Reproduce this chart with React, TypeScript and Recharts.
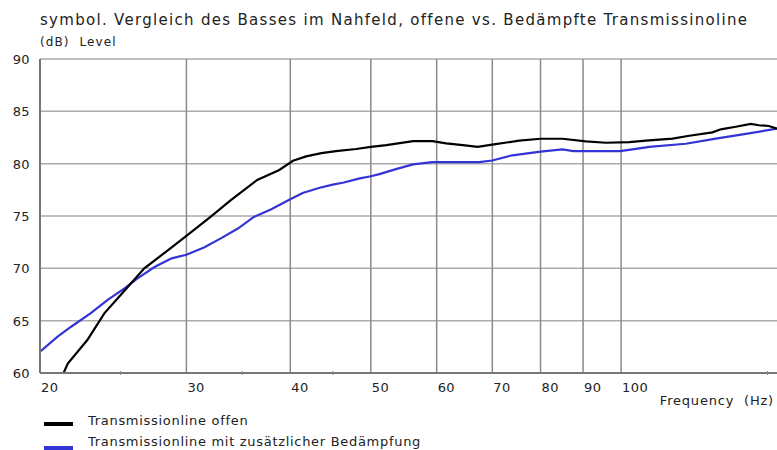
import React from 'react';
import { LineChart, Line, XAxis, YAxis, CartesianGrid, ReferenceLine } from 'recharts';

const offenFreq = [21.35, 21.6, 22.8, 23.9, 25.3, 26.7, 28.8, 30, 32.1, 33.9, 36.5, 38.8, 40.3, 41.8, 43.6, 45.4, 48.0, 50, 52.2, 56.2, 59.3, 61.6, 64.5, 67.2, 70.3, 75.4, 80, 85, 90.7, 95.9, 102.3, 107.1, 115.3, 120.8, 128.8, 131.8, 137.4, 143.2, 146.5, 150.6, 154];
const offenLevel = [60, 60.9, 63.15, 65.7, 67.9, 70, 72.0, 73.1, 74.95, 76.5, 78.45, 79.4, 80.28, 80.7, 81.0, 81.2, 81.4, 81.6, 81.78, 82.16, 82.16, 81.94, 81.78, 81.6, 81.84, 82.2, 82.38, 82.38, 82.13, 82.0, 82.05, 82.2, 82.4, 82.67, 82.99, 83.28, 83.53, 83.8, 83.67, 83.6, 83.35];

const gedFreq = [20, 21.0, 21.8, 23.0, 24.1, 25.3, 26.2, 27.5, 28.8, 30, 31.5, 33.0, 34.6, 36.2, 37.9, 40, 41.4, 43.4, 45.0, 46.4, 48.5, 50, 51.2, 53.6, 56.2, 59.3, 67.5, 70, 74, 80, 85, 87.6, 99.7, 103.2, 108.1, 119.6, 130, 141.3, 154];
const gedLevel = [62.03, 63.47, 64.42, 65.7, 66.97, 68.1, 69.04, 70.15, 70.95, 71.3, 72.0, 72.86, 73.8, 74.93, 75.63, 76.6, 77.2, 77.7, 78.0, 78.2, 78.6, 78.8, 79.0, 79.48, 79.93, 80.15, 80.15, 80.3, 80.8, 81.15, 81.37, 81.2, 81.2, 81.37, 81.6, 81.9, 82.4, 82.85, 83.35];

const majorTicks = [20, 30, 40, 50, 60, 70, 80, 90, 100];
const minorTicks = [25, 35, 45, 150];
const gridFreqs = [30, 40, 50, 60, 70, 80, 90, 100];
const yTicks = [60, 65, 70, 75, 80, 85, 90];

const seriesNames = ['Transmissionline offen', 'Transmissionline mit zusätzlicher Bedämpfung'];
const seriesColors = ['#000000', '#3333d6'];

const offenData = offenFreq.map((f, i) => ({ f, v: offenLevel[i] }));
const gedData = gedFreq.map((f, i) => ({ f, v: gedLevel[i] }));

const FONT = '"DejaVu Sans", Verdana, sans-serif';
const TXT = '#222';

const BottomTick = (props: any) => {
  const { x, y, payload } = props;
  const val = payload.value;
  if (minorTicks.includes(val)) {
    return <line x1={x} x2={x} y1={y - 8} y2={y - 12} stroke="#888" strokeWidth={1} />;
  }
  return (
    <text x={x + 1} y={y} dy={9} textAnchor="start" fontSize={13} fontFamily={FONT} fill={TXT} letterSpacing={0.4}>
      {val}
    </text>
  );
};

const YTick = (props: any) => {
  const { x, y, payload } = props;
  return (
    <text x={x} y={y} dy={5} textAnchor="end" fontSize={13} fontFamily={FONT} fill={TXT} letterSpacing={0.4}>
      {payload.value}
    </text>
  );
};

export default function App() {
  return (
    <div style={{ position: 'absolute', left: 0, top: 0, width: 777, height: 450, background: '#fff', fontFamily: FONT, overflow: 'hidden' }}>
      <div style={{ position: 'absolute', left: 40, top: 11, fontSize: 15, letterSpacing: 1.3, color: TXT, whiteSpace: 'nowrap' }}>
        symbol. Vergleich des Basses im Nahfeld, offene vs. Bedämpfte Transmissinoline
      </div>
      <div style={{ position: 'absolute', left: 40, top: 35, fontSize: 12, letterSpacing: 1.1, color: TXT, whiteSpace: 'pre' }}>
        (dB)  Level
      </div>
      <div style={{ position: 'absolute', right: 3, top: 393, fontSize: 13, letterSpacing: 0.8, color: TXT, whiteSpace: 'pre' }}>
        Frequency  (Hz)
      </div>
      <LineChart width={777} height={450} margin={{ top: 59, right: 0, bottom: 47, left: 0 }} style={{ position: 'absolute', left: 0, top: 0 }}>
        <CartesianGrid vertical={false} stroke="#aaa" strokeWidth={1.5} />
        <XAxis
          xAxisId="b"
          dataKey="f"
          type="number"
          scale="log"
          domain={[20, 154]}
          allowDataOverflow
          ticks={[...majorTicks, ...minorTicks]}
          interval={0}
          tick={<BottomTick />}
          tickLine={false}
          axisLine={{ stroke: '#777', strokeWidth: 2 }}
          height={30}
          tickMargin={4}
        />
        <XAxis
          xAxisId="t"
          orientation="top"
          dataKey="f"
          type="number"
          scale="log"
          domain={[20, 154]}
          allowDataOverflow
          ticks={minorTicks}
          interval={0}
          mirror
          tickSize={4}
          tick={() => <g />}
          tickLine={{ stroke: '#888' }}
          axisLine={{ stroke: '#777', strokeWidth: 2 }}
          height={0}
        />
        <YAxis
          type="number"
          domain={[60, 90]}
          ticks={yTicks}
          allowDataOverflow
          interval={0}
          width={40}
          tickLine={false}
          tickSize={0}
          tickMargin={10}
          tick={<YTick />}
          axisLine={{ stroke: '#777', strokeWidth: 2 }}
        />
        {gridFreqs.map((f) => (
          <ReferenceLine key={f} xAxisId="b" x={f} stroke="#8a8a8a" strokeWidth={1.5} />
        ))}
        <Line xAxisId="b" data={gedData} dataKey="v" type="linear" stroke={seriesColors[1]} strokeWidth={2.2} dot={false} isAnimationActive={false} name={seriesNames[1]} />
        <Line xAxisId="b" data={offenData} dataKey="v" type="linear" stroke={seriesColors[0]} strokeWidth={2.2} dot={false} isAnimationActive={false} name={seriesNames[0]} />
      </LineChart>
      {seriesNames.map((n, i) => (
        <React.Fragment key={n}>
          <div style={{ position: 'absolute', left: 44, top: 422 + i * 24, width: 29, height: 4, background: seriesColors[i] }} />
          <div style={{ position: 'absolute', left: 88, top: 412 + i * 21, height: 18, lineHeight: '18px', fontSize: 13, letterSpacing: 0.7, color: TXT, whiteSpace: 'nowrap' }}>{n}</div>
        </React.Fragment>
      ))}
    </div>
  );
}
